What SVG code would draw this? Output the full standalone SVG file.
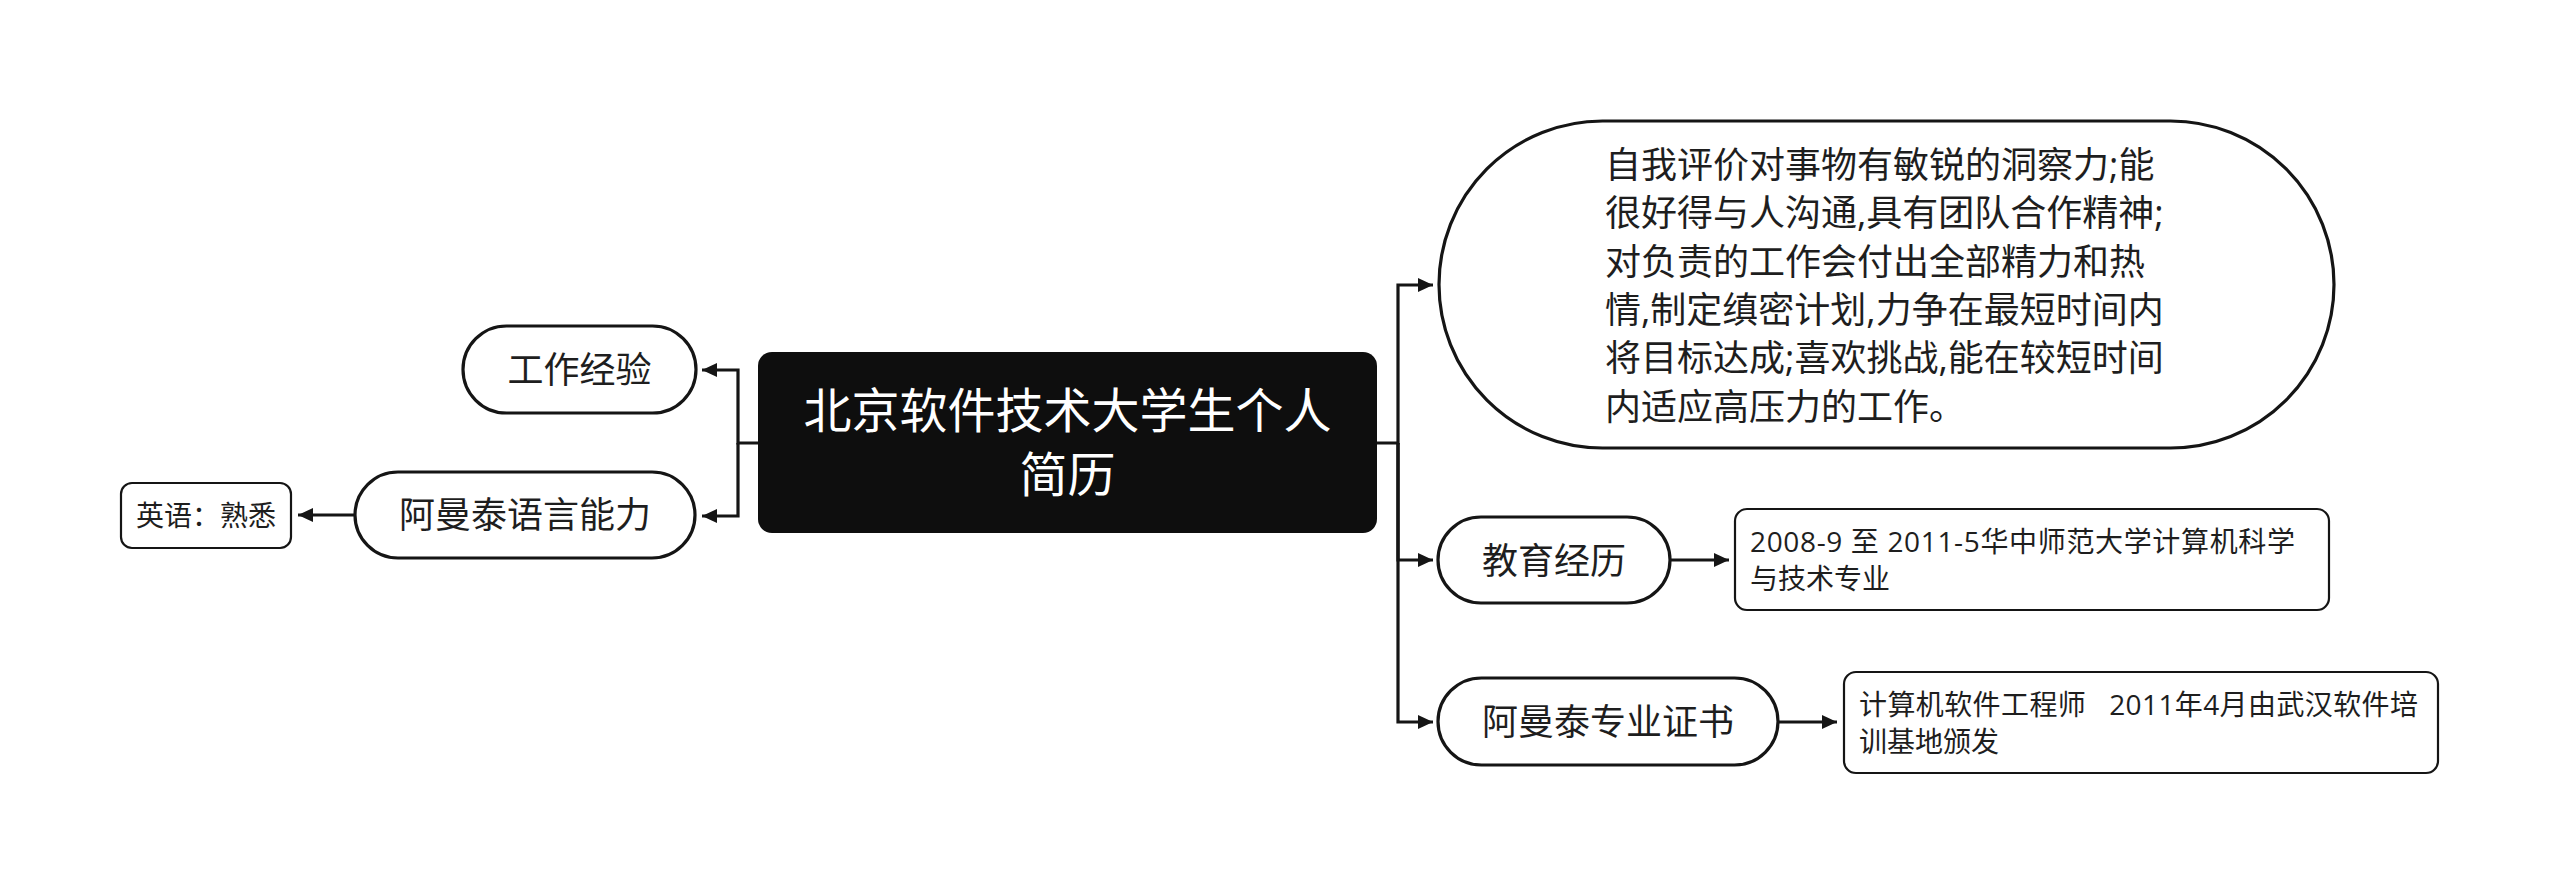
<svg xmlns="http://www.w3.org/2000/svg" width="2560" height="894" viewBox="0 0 2560 894">
<style>
  .t { font-family: "Open Sans", "Noto Sans CJK SC", sans-serif; fill: #1e1e1e; white-space: pre; }
  .pill { fill: #ffffff; stroke: #151515; stroke-width: 3.2; }
  .box { fill: #ffffff; stroke: #151515; stroke-width: 2.2; }
  .conn { fill: none; stroke: #151515; stroke-width: 3.2; }
  .f36 { font-size: 36px; }
  .f28 { font-size: 28px; }
  .mid { text-anchor: middle; }
</style>
<defs>
  <marker id="arr" markerUnits="userSpaceOnUse" markerWidth="16" markerHeight="14" refX="15" refY="7" orient="auto">
    <path d="M0,0 L15,7 L0,14 z" fill="#151515"/>
  </marker>
</defs>
<rect width="2560" height="894" fill="#ffffff"/>

<g id="connectors">
  <path class="conn" d="M758,443 H738 V370 H702" marker-end="url(#arr)"/>
  <path class="conn" d="M738,443 V516 H702" marker-end="url(#arr)"/>
  <path class="conn" d="M355,515 H298" marker-end="url(#arr)"/>
  <path class="conn" d="M1377,443 H1398 V285 H1433" marker-end="url(#arr)"/>
  <path class="conn" d="M1398,443 V560 H1433" marker-end="url(#arr)"/>
  <path class="conn" d="M1398,443 V722 H1433" marker-end="url(#arr)"/>
  <path class="conn" d="M1670,560 H1729" marker-end="url(#arr)"/>
  <path class="conn" d="M1778,722 H1837" marker-end="url(#arr)"/>
</g>

<g id="root">
  <rect x="758" y="352" width="619" height="181" rx="14" fill="#0e0e0e"/>
  <text class="t mid" x="1067.5" y="428" style="font-size:48px; fill:#ffffff">北京软件技术大学生个人</text>
  <text class="t mid" x="1067.5" y="492" style="font-size:48px; fill:#ffffff">简历</text>
</g>

<g id="work">
  <rect class="pill" x="463" y="326" width="233" height="87" rx="43.5"/>
  <text class="t f36 mid" x="579.5" y="383">工作经验</text>
</g>

<g id="language">
  <rect class="pill" x="355" y="472" width="340" height="86" rx="43"/>
  <text class="t f36 mid" x="525" y="528">阿曼泰语言能力</text>
</g>

<g id="english">
  <rect class="box" x="121" y="483" width="170" height="65" rx="11"/>
  <text class="t f28 mid" x="206" y="526">英语：熟悉</text>
</g>

<g id="self">
  <rect class="pill" x="1439" y="121" width="895" height="327" rx="163.5"/>
  <text class="t f36" x="1605" y="177.5">自我评价对事物有敏锐的洞察力;能</text>
  <text class="t f36" x="1605" y="226">很好得与人沟通,具有团队合作精神;</text>
  <text class="t f36" x="1605" y="274.5">对负责的工作会付出全部精力和热</text>
  <text class="t f36" x="1605" y="323">情,制定缜密计划,力争在最短时间内</text>
  <text class="t f36" x="1605" y="371">将目标达成;喜欢挑战,能在较短时间</text>
  <text class="t f36" x="1605" y="419.5">内适应高压力的工作。</text>
</g>

<g id="education">
  <rect class="pill" x="1438" y="517" width="232" height="86" rx="43"/>
  <text class="t f36 mid" x="1554" y="573.5">教育经历</text>
</g>

<g id="education-detail">
  <rect class="box" x="1735" y="509" width="594" height="101" rx="12"/>
  <text class="t f28" x="1750" y="552" textLength="545" lengthAdjust="spacing">2008-9 至 2011-5华中师范大学计算机科学</text>
  <text class="t f28" x="1750" y="589">与技术专业</text>
</g>

<g id="certificate">
  <rect class="pill" x="1438" y="678" width="340" height="87" rx="43.5"/>
  <text class="t f36 mid" x="1608" y="735">阿曼泰专业证书</text>
</g>

<g id="certificate-detail">
  <rect class="box" x="1844" y="672" width="594" height="101" rx="12"/>
  <text class="t f28" x="1859" y="715" textLength="559" lengthAdjust="spacing">计算机软件工程师   2011年4月由武汉软件培</text>
  <text class="t f28" x="1859" y="752">训基地颁发</text>
</g>
</svg>
